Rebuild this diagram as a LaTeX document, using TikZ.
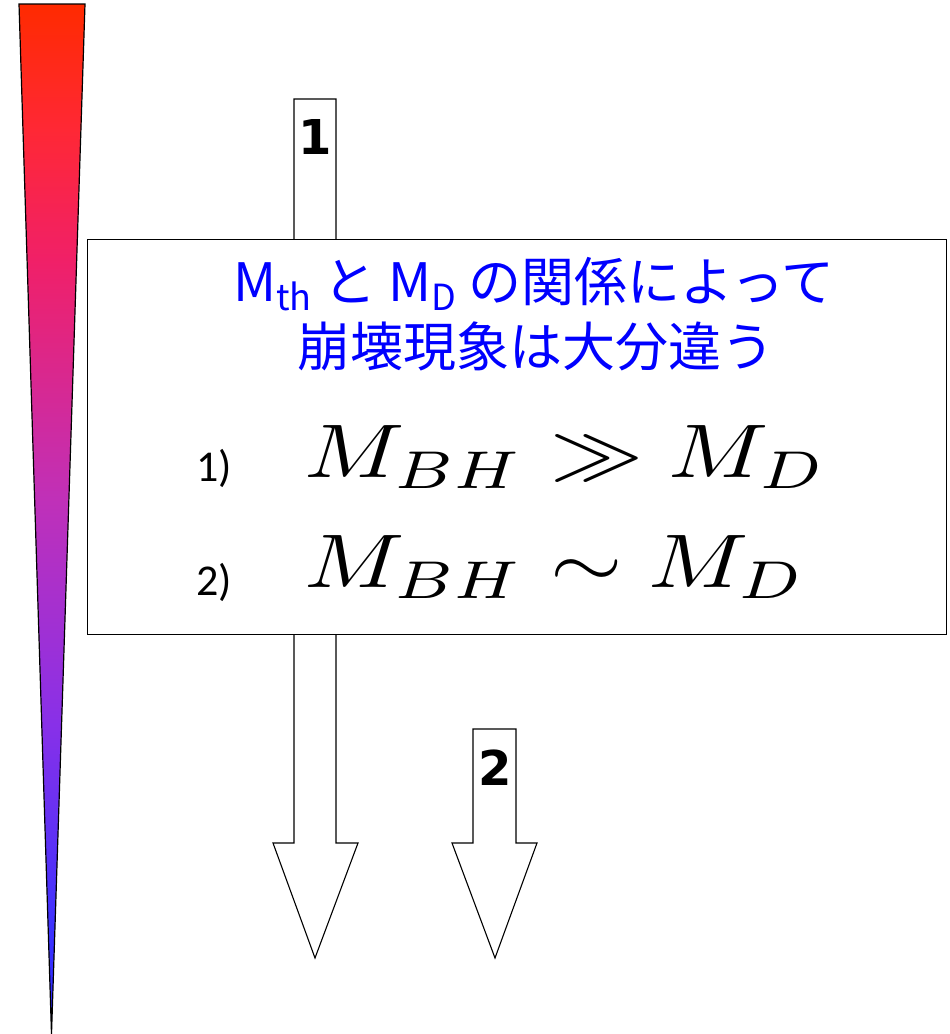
\documentclass[tikz,border=0pt]{standalone}
\usepackage{graphicx}
\usepackage{fontspec}
\newfontfamily\cjk{Noto Sans CJK JP}
\newfontfamily\numfont{DejaVu Sans}
\newfontfamily\lblfont{Carlito}
\definecolor{sA}{RGB}{255,42,0}
\definecolor{sB}{RGB}{255,40,52}
\definecolor{sC}{RGB}{240,32,104}
\definecolor{sD}{RGB}{192,48,184}
\definecolor{sE}{RGB}{136,48,232}
\definecolor{sF}{RGB}{60,50,255}
\definecolor{sG}{RGB}{40,40,255}
\definecolor{txtblue}{RGB}{0,0,255}
\pgfdeclareverticalshading{tri}{100bp}{color(0bp)=(sG); color(25bp)=(sG); color(30bp)=(sF); color(40bp)=(sE); color(51bp)=(sD); color(62.5bp)=(sC); color(69bp)=(sB); color(75bp)=(sA); color(100bp)=(sA)}
\newcommand{\bigmath}[1]{\scalebox{9.3}[7.6]{$#1$}}
\tikzset{
  blockarrow/.style={draw=black, fill=white, line width=1.1pt, line join=miter},
  mainbox/.style={draw=black, fill=white, line width=1.1pt, inner sep=0pt, anchor=north west},
  numlbl/.style={font=\numfont\bfseries\fontsize{48}{52}\selectfont, inner sep=0pt},
  bluetxt/.style={font=\cjk\fontsize{53}{62}\selectfont, text=txtblue, inner sep=0pt, anchor=base},
  itemlbl/.style={font=\lblfont\fontsize{44}{50}\selectfont, inner sep=0pt, anchor=base west},
  mathlbl/.style={font=\normalsize, inner sep=0pt, anchor=base west}
}
\begin{document}
\begin{tikzpicture}[x=1pt,y=-1pt]
\useasboundingbox (0,0) rectangle (950,1034);
% gradient wedge
\path[shading=tri, draw=black, line width=1.2pt] (19,4) -- (85,4) -- (51.5,1034) -- cycle;
% block arrows
\draw[blockarrow] (294,99) -- (336,99) -- (336,843) -- (358,843) -- (315,958) -- (273,843) -- (294,843) -- cycle;
\draw[blockarrow] (473,729) -- (516,729) -- (516,843) -- (537,843) -- (495,958) -- (452,843) -- (473,843) -- cycle;
% main box
\node[mainbox, minimum width=859pt, minimum height=395pt] (box) at (87,239) {};
% labels on arrows
\node[numlbl] (n1) at (315,137) {1};
\node[numlbl] (n2) at (495,768) {2};
% blue text
\node[bluetxt] (t1) at (534,301) {M{\fontsize{36}{40}\selectfont\raisebox{-9pt}{th}} と M{\fontsize{36}{40}\selectfont\raisebox{-9pt}{D}} の関係によって};
\node[bluetxt] (t2) at (536,366) {崩壊現象は大分違う};
% items
\node[itemlbl] (i1) at (196,481) {1)};
\node[itemlbl] (i2) at (196,595) {2)};
\node[mathlbl] (m1) at (304,477) {\bigmath{M_{BH}\gg M_D}};
\node[mathlbl] (m2) at (304,587) {\bigmath{M_{BH}\sim M_D}};
\end{tikzpicture}
\end{document}
